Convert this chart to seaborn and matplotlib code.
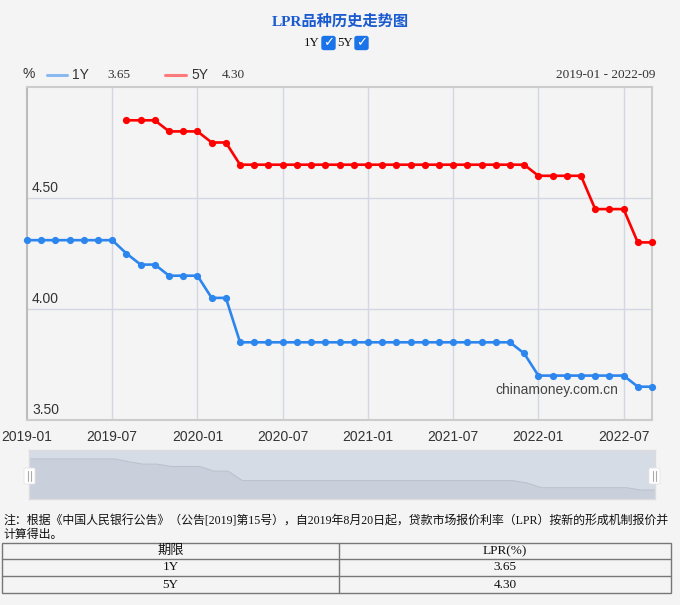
import numpy as np
import pandas as pd
import matplotlib
matplotlib.use("Agg")
import matplotlib.pyplot as plt
import seaborn as sns
from matplotlib.patches import Rectangle, FancyBboxPatch
from matplotlib.lines import Line2D
import matplotlib.transforms as mtrans

# ---------------- data ----------------
months = [
    "2019-01", "2019-02", "2019-03", "2019-04", "2019-05", "2019-06", "2019-07", "2019-08", "2019-09",
    "2019-10", "2019-11", "2019-12",
    "2020-01", "2020-02", "2020-03", "2020-04", "2020-05", "2020-06", "2020-07", "2020-08", "2020-09",
    "2020-10", "2020-11", "2020-12",
    "2021-01", "2021-02", "2021-03", "2021-04", "2021-05", "2021-06", "2021-07", "2021-08", "2021-09",
    "2021-10", "2021-11", "2021-12",
    "2022-01", "2022-02", "2022-03", "2022-04", "2022-05", "2022-06", "2022-07", "2022-08", "2022-09",
]
lpr_1y = [
    4.31, 4.31, 4.31, 4.31, 4.31, 4.31, 4.31, 4.25, 4.20, 4.20, 4.15, 4.15,
    4.15, 4.05, 4.05, 3.85, 3.85, 3.85, 3.85, 3.85, 3.85, 3.85, 3.85, 3.85,
    3.85, 3.85, 3.85, 3.85, 3.85, 3.85, 3.85, 3.85, 3.85, 3.85, 3.85, 3.80,
    3.70, 3.70, 3.70, 3.70, 3.70, 3.70, 3.70, 3.65, 3.65,
]
months_5y = months[7:]
lpr_5y = [
    4.85, 4.85, 4.85, 4.80, 4.80,
    4.80, 4.75, 4.75, 4.65, 4.65, 4.65, 4.65, 4.65, 4.65, 4.65, 4.65, 4.65,
    4.65, 4.65, 4.65, 4.65, 4.65, 4.65, 4.65, 4.65, 4.65, 4.65, 4.65, 4.65,
    4.60, 4.60, 4.60, 4.60, 4.45, 4.45, 4.45, 4.30, 4.30,
]
x_ticks = ["2019-01", "2019-07", "2020-01", "2020-07", "2021-01", "2021-07", "2022-01", "2022-07"]
y_ticks = [3.50, 4.00, 4.50]
table_rows = [["期限", "LPR(%)"], ["1Y", "3.65"], ["5Y", "4.30"]]

df1 = pd.DataFrame({"i": [months.index(m) for m in months], "v": lpr_1y})
df5 = pd.DataFrame({"i": [months.index(m) for m in months_5y], "v": lpr_5y})

# ---------------- figure ----------------
W, H = 680, 605
BG = "#f4f4f4"
sns.set_style("white")
plt.rcParams["font.family"] = ["Liberation Sans", "Noto Sans CJK SC"]
fig = plt.figure(figsize=(W / 100, H / 100), dpi=100, facecolor=BG)

def fx(x):
    return x / W

def fy(y):
    return 1 - y / H

SERIF = ["Liberation Serif", "Noto Sans CJK SC"]

# title
fig.text(fx(340), fy(22), "LPR品种历史走势图", ha="center", va="center", fontsize=11,
         color="#1a5bd0", fontweight="bold", family=SERIF)
# checkbox row
fig.text(fx(320), fy(43), "1Y", ha="right", va="center", fontsize=9.2, family=SERIF, color="#111")
fig.text(fx(353), fy(43), "5Y", ha="right", va="center", fontsize=9.2, family=SERIF, color="#111")
for cx in (322, 355):
    fig.add_artist(FancyBboxPatch((fx(cx), fy(49.5)), fx(13), 13 / H,
                                  boxstyle="round,pad=0,rounding_size=0.003",
                                  facecolor="#1a73e8", edgecolor="#1a73e8", transform=fig.transFigure))
    fig.text(fx(cx + 6.5), fy(43), "✓", ha="center", va="center", fontsize=9.5, color="white",
             fontweight="bold", family=["DejaVu Sans"])

# legend row
fig.text(fx(22), fy(74), "%", ha="left", va="center", fontsize=10, color="#333")
fig.add_artist(Line2D([fx(47), fx(67)], [fy(75), fy(75)], color="#8ab9f2", lw=2.2, transform=fig.transFigure))
fig.text(fx(72), fy(75), "1Y", ha="left", va="center", fontsize=10, color="#333")
fig.text(fx(107), fy(75), "3.65", ha="left", va="center", fontsize=9.5, family=SERIF, color="#333")
fig.add_artist(Line2D([fx(165), fx(186)], [fy(75), fy(75)], color="#ff7b7b", lw=2.2, transform=fig.transFigure))
fig.text(fx(191), fy(75), "5Y", ha="left", va="center", fontsize=10, color="#333")
fig.text(fx(222), fy(75), "4.30", ha="left", va="center", fontsize=9.5, family=SERIF, color="#333")
fig.text(fx(655), fy(75), "2019-01 - 2022-09", ha="right", va="center", fontsize=9.5, family=SERIF, color="#333")

# main axes
ax = fig.add_axes([fx(27), fy(420), fx(652) - fx(27), (420 - 87) / H])
ax.set_facecolor(BG)
sns.lineplot(data=df1, x="i", y="v", ax=ax, color="#2d86ee", marker="o", markersize=5.2,
             markeredgewidth=0, linewidth=1.9, clip_on=False, zorder=4)
sns.lineplot(data=df5, x="i", y="v", ax=ax, color="#ff0000", marker="o", markersize=5.2,
             markeredgewidth=0, linewidth=1.9, clip_on=False, zorder=4)
ax.set_xlim(0, len(months) - 1)
ax.set_ylim(3.5, 5.0)
tick_pos = [months.index(m) for m in x_ticks]
for p in tick_pos[1:]:
    ax.axvline(p, color="#d3d7e3", lw=1, zorder=1)
for v in y_ticks[1:]:
    ax.axhline(v, color="#d3d7e3", lw=1, zorder=1)
ax.set_xticks(tick_pos)
ax.set_xticklabels(x_ticks, fontsize=10, color="#333")
ax.tick_params(axis="x", length=0, pad=7)
ax.set_yticks([])
ax.set_xlabel("")
ax.set_ylabel("")
trans = mtrans.blended_transform_factory(ax.transAxes, ax.transData)
for v in y_ticks:
    ax.text(0.008, v + 0.012, f"{v:.2f}", transform=trans, ha="left", va="bottom", fontsize=10, color="#333")
for s in ax.spines.values():
    s.set_color("#cccccc")
    s.set_linewidth(1.5)
ax.spines["left"].set_color("#bbbbbb")

fig.text(fx(495), fy(390), "chinamoney.com.cn", ha="left", va="center", fontsize=10, color="#444")

# slider
sax = fig.add_axes([fx(29), fy(499), fx(655) - fx(29), 49 / H])
sax.set_facecolor("#d6dce6")
sax.fill_between(df1["i"], df1["v"], 3.0, color="#c9d0db", lw=0)
sax.plot(df1["i"], df1["v"], color="#bac2ce", lw=0.8)
sax.set_xlim(0, len(months) - 1)
sax.set_ylim(3.46, 4.50)
sax.set_xticks([])
sax.set_yticks([])
for s in sax.spines.values():
    s.set_color("#dcdcdc")
    s.set_linewidth(1)
for hx in (24, 649):
    fig.add_artist(FancyBboxPatch((fx(hx), fy(484)), fx(11), 16 / H,
                                  boxstyle="round,pad=0,rounding_size=0.002",
                                  facecolor="white", edgecolor="#e4e4e4", lw=0.6, transform=fig.transFigure))
    for dx in (4.2, 6.5):
        fig.add_artist(Line2D([fx(hx + dx), fx(hx + dx)], [fy(481), fy(471)], color="#aaaaaa", lw=0.8,
                              transform=fig.transFigure))

# note
fig.text(fx(3), fy(521), "注：根据《中国人民银行公告》（公告[2019]第15号），自2019年8月20日起，贷款市场报价利率（LPR）按新的形成机制报价并",
         ha="left", va="center", fontsize=8.6, family=SERIF, color="#111")
fig.text(fx(3), fy(535), "计算得出。", ha="left", va="center", fontsize=8.6, family=SERIF, color="#111")

# table
tx0, tx1, tmid = 2, 671, 339
rows_y = [543, 559, 576, 593]
fig.add_artist(Rectangle((fx(tx0), fy(rows_y[-1])), fx(tx1 - tx0), (rows_y[-1] - rows_y[0]) / H,
                         facecolor="none", edgecolor="#777777", lw=1, transform=fig.transFigure))
for yy in rows_y[1:-1]:
    fig.add_artist(Line2D([fx(tx0), fx(tx1)], [fy(yy), fy(yy)], color="#777777", lw=1, transform=fig.transFigure))
fig.add_artist(Line2D([fx(tmid), fx(tmid)], [fy(rows_y[0]), fy(rows_y[-1])], color="#777777", lw=1,
                      transform=fig.transFigure))
for r, (a, b) in enumerate(table_rows):
    yc = (rows_y[r] + rows_y[r + 1]) / 2
    fig.text(fx((tx0 + tmid) / 2), fy(yc), a, ha="center", va="center", fontsize=9.5, family=SERIF, color="#111")
    fig.text(fx((tmid + tx1) / 2), fy(yc), b, ha="center", va="center", fontsize=9.5, family=SERIF, color="#111")

fig.savefig("out.png", dpi=100, facecolor=BG)
